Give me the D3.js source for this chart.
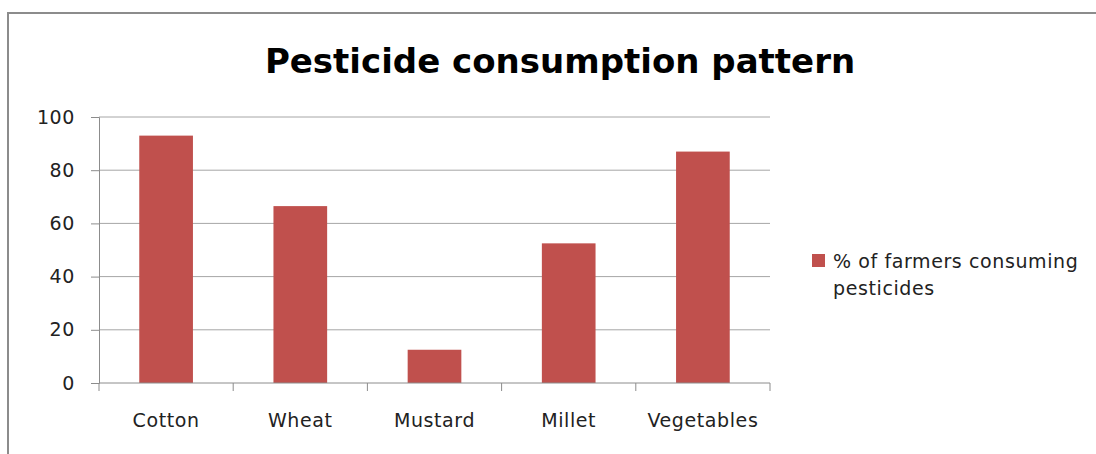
<!DOCTYPE html>
<html>
<head>
<meta charset="utf-8">
<script src="https://cdn.jsdelivr.net/npm/d3@7"></script>
<style>
  body { margin: 0; background: #fff; }
  svg { display: block; font-family: "DejaVu Sans", sans-serif; }
</style>
</head>
<body>
<div id="chart"></div>
<script>
'use strict';

// chart data
const categories = ["Cotton", "Wheat", "Mustard", "Millet", "Vegetables"];
const seriesValues = [93, 66.5, 12.5, 52.5, 87];
const seriesName = "% of farmers consuming pesticides";
const yTicks = [0, 20, 40, 60, 80, 100];

const width = 1096, height = 454;
const plot = {left: 99, right: 770, top: 117, bottom: 383};
const labelFont = "'DejaVu Sans', sans-serif";
const labelSize = 19;
const labelSpacing = 0.6;

const svg = d3.select("#chart").append("svg")
    .attr("width", width)
    .attr("height", height);

// outer chart frame
svg.append("path")
    .attr("d", "M8," + height + " V13 H" + width)
    .attr("fill", "none")
    .attr("stroke", "#8c8c8c")
    .attr("stroke-width", 2);

// title
svg.append("text")
    .attr("x", 560)
    .attr("y", 73)
    .attr("text-anchor", "middle")
    .attr("font-size", 34)
    .attr("font-weight", "bold")
    .attr("fill", "#000")
    .text("Pesticide consumption pattern");

const x = d3.scaleBand()
    .domain(categories)
    .range([plot.left, plot.right])
    .paddingInner(0.6)
    .paddingOuter(0.3);

const y = d3.scaleLinear()
    .domain([0, 100])
    .range([plot.bottom, plot.top]);

// gridlines
svg.append("g")
    .selectAll("line")
    .data(yTicks.filter(t => t > 0))
    .enter()
    .append("line")
    .attr("x1", plot.left)
    .attr("x2", plot.right)
    .attr("y1", d => y(d))
    .attr("y2", d => y(d))
    .attr("stroke", "#a6a6a6")
    .attr("stroke-width", 1);

// bars
svg.append("g")
    .selectAll("rect")
    .data(seriesValues)
    .enter()
    .append("rect")
    .attr("x", (d, i) => x(categories[i]))
    .attr("y", d => y(d))
    .attr("width", x.bandwidth())
    .attr("height", d => y(0) - y(d))
    .attr("fill", "#c0504d");

// y axis
const yAxis = svg.append("g")
    .attr("transform", "translate(" + plot.left + ",0)")
    .call(d3.axisLeft(y).tickValues(yTicks).tickSize(8).tickPadding(16));
yAxis.select(".domain").attr("stroke", "#8c8c8c");
yAxis.selectAll(".tick line").attr("stroke", "#8c8c8c");
yAxis.selectAll(".tick text")
    .attr("font-size", labelSize)
    .attr("font-family", labelFont)
    .attr("letter-spacing", labelSpacing)
    .attr("fill", "#222");

// x axis: ticks between categories like Excel
const xAxisG = svg.append("g");
xAxisG.append("line")
    .attr("x1", plot.left)
    .attr("x2", plot.right)
    .attr("y1", y(0))
    .attr("y2", y(0))
    .attr("stroke", "#8c8c8c");
xAxisG.selectAll(".xtick")
    .data(d3.range(categories.length + 1))
    .enter()
    .append("line")
    .attr("class", "xtick")
    .attr("x1", i => plot.left + (plot.right - plot.left) * i / categories.length)
    .attr("x2", i => plot.left + (plot.right - plot.left) * i / categories.length)
    .attr("y1", y(0))
    .attr("y2", y(0) + 8)
    .attr("stroke", "#8c8c8c");
xAxisG.selectAll(".xlabel")
    .data(categories)
    .enter()
    .append("text")
    .attr("class", "xlabel")
    .attr("x", d => x(d) + x.bandwidth() / 2)
    .attr("y", 427)
    .attr("text-anchor", "middle")
    .attr("font-size", labelSize)
    .attr("letter-spacing", labelSpacing)
    .attr("fill", "#222")
    .text(d => d);

// legend
const legend = svg.append("g");
legend.append("rect")
    .attr("x", 812)
    .attr("y", 254)
    .attr("width", 13)
    .attr("height", 13)
    .attr("fill", "#c0504d");
const legendText = legend.append("text")
    .attr("x", 833)
    .attr("y", 268)
    .attr("font-size", labelSize)
    .attr("letter-spacing", labelSpacing)
    .attr("fill", "#222");
legendText.append("tspan").attr("x", 833).text("% of farmers consuming");
legendText.append("tspan").attr("x", 833).attr("dy", 27).text("pesticides");
</script>
</body>
</html>
